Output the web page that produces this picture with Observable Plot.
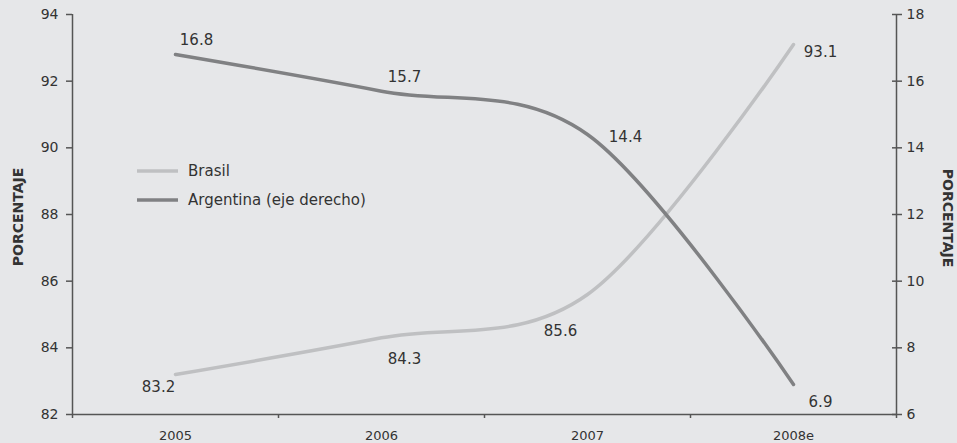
<!DOCTYPE html>
<html>
<head>
<meta charset="utf-8">
<script src="https://cdn.jsdelivr.net/npm/d3@7"></script>
<script src="https://cdn.jsdelivr.net/npm/@observablehq/plot@0.6"></script>
<style>
  html, body { margin: 0; padding: 0; background: #e6e7e9; }
  #chart { position: relative; width: 957px; height: 443px; }
  svg { display: block; }
</style>
</head>
<body>
<div id="chart"></div>
<script>
const years = ["2005", "2006", "2007", "2008e"];
const brasil = [83.2, 84.3, 85.6, 93.1];
const argentina = [16.8, 15.7, 14.4, 6.9];
const leftTicks = [82, 84, 86, 88, 90, 92, 94];
const rightTicks = [6, 8, 10, 12, 14, 16, 18];
const seriesNames = ["Brasil", "Argentina (eje derecho)"];

// right axis [6,18] maps onto left axis [82,94]
const shift = 76;
const toLeft = v => v + shift;

const colB = "#bfc0c2";
const colA = "#808183";
const ink = "#333";
const axisCol = "#555";
const font = "DejaVu Sans, Verdana, sans-serif";

const bData = years.map((y, i) => ({i, v: brasil[i]}));
const aData = years.map((y, i) => ({i, v: toLeft(argentina[i])}));

// label offsets (pixels) for each point
const bOff = [[-17, 13], [23, 21], [-27, 37], [27, 8]];
const aOff = [[21, -14], [23, -14], [38, 3], [27, 18]];

const bounds = d3.range(years.length + 1).map(k => k - 0.5);

const marks = [
  Plot.ruleY([82], {stroke: axisCol, strokeWidth: 1.5}),
  Plot.ruleX([-0.5, years.length - 0.5], {y1: 82, y2: 94, stroke: axisCol, strokeWidth: 1.5}),
  Plot.axisY({anchor: "left", ticks: leftTicks, tickSize: 6, tickPadding: 8, stroke: axisCol, strokeWidth: 1.5, color: ink, fontSize: 14, label: null}),
  Plot.axisY({anchor: "right", ticks: rightTicks.map(toLeft), tickFormat: d => d - shift, tickSize: 5, tickPadding: 5, stroke: axisCol, strokeWidth: 1.5, color: ink, fontSize: 14, label: null}),
  Plot.axisY({anchor: "right", ticks: rightTicks.map(toLeft), tickFormat: () => "", tickSize: 5, dx: -5, stroke: axisCol, strokeWidth: 1.5, label: null}),
  Plot.axisX({ticks: bounds, tickFormat: () => "", tickSize: 4, stroke: axisCol, strokeWidth: 1.5, label: null}),
  Plot.axisX({ticks: d3.range(years.length), tickFormat: i => years[i], tickSize: 0, tickPadding: 16, color: ink, fontSize: 13, label: null}),
  Plot.line(bData, {x: "i", y: "v", stroke: colB, strokeWidth: 3.5, curve: "cardinal"}),
  Plot.line(aData, {x: "i", y: "v", stroke: colA, strokeWidth: 3.5, curve: "cardinal"}),
  ...bData.map((d, k) => Plot.text([d], {x: "i", y: "v", text: d => d.v.toFixed(1), dx: bOff[k][0], dy: bOff[k][1], fill: ink, fontSize: 15})),
  ...aData.map((d, k) => Plot.text([d], {x: "i", y: "v", text: () => argentina[k].toFixed(1), dx: aOff[k][0], dy: aOff[k][1], fill: ink, fontSize: 15}))
];

const plot = Plot.plot({
  width: 957,
  height: 443,
  marginLeft: 72,
  marginRight: 61,
  marginTop: 14,
  marginBottom: 29,
  style: {background: "#e6e7e9", fontFamily: font, fontSize: "14px", color: ink},
  x: {type: "linear", domain: [-0.5, years.length - 0.5], axis: null},
  y: {domain: [82, 94], axis: null},
  marks
});

const svg = d3.select(plot);
// legend
const leg = svg.append("g").attr("text-anchor", "start");
[colB, colA].forEach((c, k) => {
  const y = 171 + k * 29;
  leg.append("line").attr("x1", 137).attr("x2", 178).attr("y1", y).attr("y2", y)
    .attr("stroke", c).attr("stroke-width", 3.5);
  leg.append("text").attr("x", 188).attr("y", y).attr("dy", "0.35em")
    .attr("text-anchor", "start")
    .attr("fill", ink).attr("font-size", 15).attr("font-family", font).text(seriesNames[k]);
});
// axis titles
svg.append("text").attr("transform", "translate(18,217) rotate(-90)")
  .attr("text-anchor", "middle").attr("dy", "0.35em")
  .attr("font-weight", "bold").attr("font-size", 14).attr("font-family", font).attr("fill", ink)
  .text("PORCENTAJE");
svg.append("text").attr("transform", "translate(948,218) rotate(90)")
  .attr("text-anchor", "middle").attr("dy", "0.35em")
  .attr("font-weight", "bold").attr("font-size", 14).attr("font-family", font).attr("fill", ink)
  .text("PORCENTAJE");

document.getElementById("chart").appendChild(plot);
</script>
</body>
</html>
